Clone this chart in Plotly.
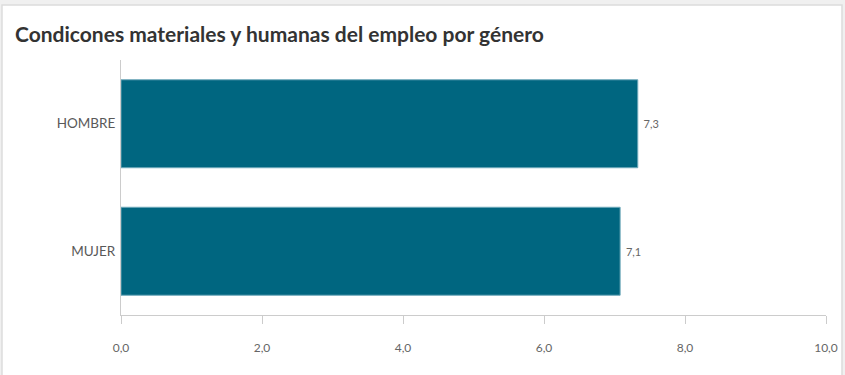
import plotly.graph_objects as go

generos = ["HOMBRE", "MUJER"]
valores = [7.33, 7.08]

fig = go.Figure()
fig.add_trace(go.Bar(
    x=valores, y=generos, orientation="h",
    marker=dict(color="#006680", line=dict(color="#6fa9ba", width=1)),
    width=0.69,
    texttemplate=" %{x:.1f}", textposition="outside",
    textfont=dict(family="Lato", size=11, color="#666666"),
    cliponaxis=False,
))

fig.update_layout(
    width=845, height=375,
    margin=dict(l=121, r=19, t=60, b=60),
    paper_bgcolor="#f0f0f0", plot_bgcolor="rgba(0,0,0,0)",
    separators=",.",
    showlegend=False,
    font=dict(family="Lato", color="#666666"),
    title=dict(text="<b>Condicones materiales y humanas del empleo por género</b>",
               x=15 / 845, xref="container", xanchor="left",
               y=1 - 35 / 375, yref="container", yanchor="middle",
               font=dict(family="Lato", size=21, color="#333333")),
    shapes=[dict(type="rect", xref="paper", yref="paper", layer="below",
                 x0=-0.1688, x1=1.0227, y0=-0.3, y1=1.2157,
                 fillcolor="white", line=dict(color="#dcdcdc", width=1.5))],
)

fig.update_xaxes(range=[0, 10], dtick=2, tickformat=".1f", showgrid=False,
                 showline=True, linecolor="#cccccc", linewidth=1,
                 ticks="outside", ticklen=8, tickcolor="#cccccc",
                 ticklabelstandoff=14, automargin=False,
                 tickfont=dict(family="Lato", size=12, color="#666666"), zeroline=False)
fig.update_yaxes(autorange="reversed", showline=True, linecolor="#cccccc", linewidth=1,
                 showgrid=False, ticks="", ticklabelstandoff=2, automargin=False,
                 tickfont=dict(family="Lato", size=13.5, color="#595959"))

fig.write_html("out.html", config={"displayModeBar": False},
               post_script="document.body.style.margin='0';")
